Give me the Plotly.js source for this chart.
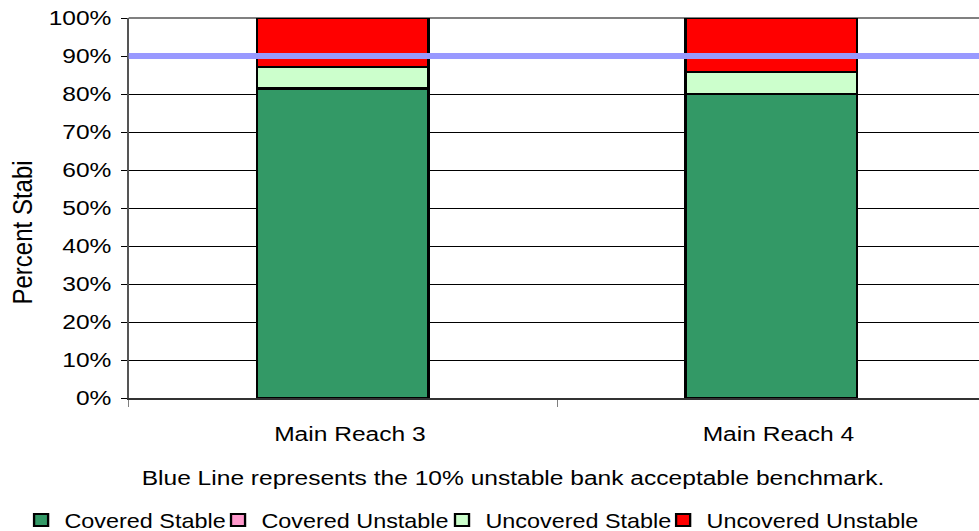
<!DOCTYPE html>
<html>
<head>
<meta charset="utf-8">
<script src="https://cdn.plot.ly/plotly-3.0.1.min.js"></script>
<style>
  html, body { margin: 0; padding: 0; background: #fff; overflow: hidden; }
  #wrap { width: 979px; height: 531px; overflow: hidden; }
  /* the chart is laid out narrower and widened horizontally, like the original export */
  #chart { width: 837px; height: 531px; transform: scaleX(1.1697); transform-origin: 0 0; }
</style>
</head>
<body>
<div id="wrap"><div id="chart"></div></div>
<script>
// Bank stability by reach (percent of bank length)
const categories = ['Main Reach 3', 'Main Reach 4'];
const coveredStable = [81.2, 80.0];
const coveredUnstable = [0.4, 0.0];
const uncoveredStable = [5.6, 5.9];
const uncoveredUnstable = [12.8, 14.1];
const benchmark = 90;
const seriesNames = ['Covered Stable', 'Covered Unstable', 'Uncovered Stable', 'Uncovered Unstable'];
const yTitle = 'Percent Stabi';
const noteText = 'Blue Line represents the 10% unstable bank acceptable benchmark.';

const FONT = '"Liberation Sans", Arial, sans-serif';
const values = [coveredStable, coveredUnstable, uncoveredStable, uncoveredUnstable];
const colors = ['#339966', '#FF99CC', '#CCFFCC', '#FF0000'];
const legendIds = ['legend', 'legend2', 'legend3', 'legend4'];
const legendX = [-0.1305, 0.1011, 0.3645, 0.6245];

const traces = seriesNames.map((name, i) => ({
  type: 'bar',
  name: name,
  x: categories,
  y: values[i],
  width: 0.4,
  legend: legendIds[i],
  hoverinfo: 'none',
  marker: { color: colors[i], line: { color: '#000000', width: 2 } }
}));

const layout = {
  width: 837,
  height: 531,
  margin: { l: 110, r: 0, t: 18, b: 133, autoexpand: false },
  paper_bgcolor: '#ffffff',
  plot_bgcolor: '#ffffff',
  barmode: 'stack',
  showlegend: true,
  font: { family: FONT, size: 21, color: '#000000' },
  xaxis: {
    type: 'category',
    range: [-0.5, 1.4847],
    showline: true, linecolor: '#333333', linewidth: 2,
    ticks: 'outside', tickson: 'boundaries', ticklen: 7, tickcolor: '#808080', tickwidth: 1,
    ticklabelstandoff: 16, ticklabelshift: 6,
    showgrid: false, zeroline: false, fixedrange: true
  },
  yaxis: {
    range: [0, 100],
    tickmode: 'linear', tick0: 0, dtick: 10, ticksuffix: '%',
    showgrid: true, gridcolor: '#000000', gridwidth: 1,
    showline: true, linecolor: '#555555', linewidth: 1.5,
    ticks: 'outside', ticklen: 5, tickcolor: '#000000', tickwidth: 1,
    ticklabelstandoff: 4,
    zeroline: false, fixedrange: true
  },
  shapes: [
    { type: 'line', xref: 'paper', x0: 0, x1: 1, yref: 'paper', y0: 1, y1: 1,
      line: { color: '#808080', width: 2 }, layer: 'between' },
    { type: 'line', xref: 'paper', x0: 0, x1: 1, yref: 'y', y0: benchmark, y1: benchmark,
      line: { color: '#9999FF', width: 6 }, layer: 'above' }
  ],
  annotations: [
    { text: yTitle, xref: 'paper', yref: 'paper', x: -0.1259, y: 0.4368,
      xanchor: 'center', yanchor: 'middle', textangle: -90, showarrow: false,
      font: { family: FONT, size: 24, color: '#000000' } },
    { text: noteText, xref: 'paper', yref: 'paper', x: 0.452, y: -0.2105,
      xanchor: 'center', yanchor: 'middle', showarrow: false,
      font: { family: FONT, size: 21, color: '#000000' } }
  ]
};

legendIds.forEach((id, i) => {
  layout[id] = {
    x: legendX[i], y: -0.3211, xanchor: 'left', yanchor: 'middle',
    orientation: 'h', bgcolor: 'rgba(0,0,0,0)', borderwidth: 0,
    font: { family: FONT, size: 20, color: '#000000' }
  };
});

Plotly.newPlot('chart', traces, layout, { staticPlot: true, displayModeBar: false });
</script>
</body>
</html>
